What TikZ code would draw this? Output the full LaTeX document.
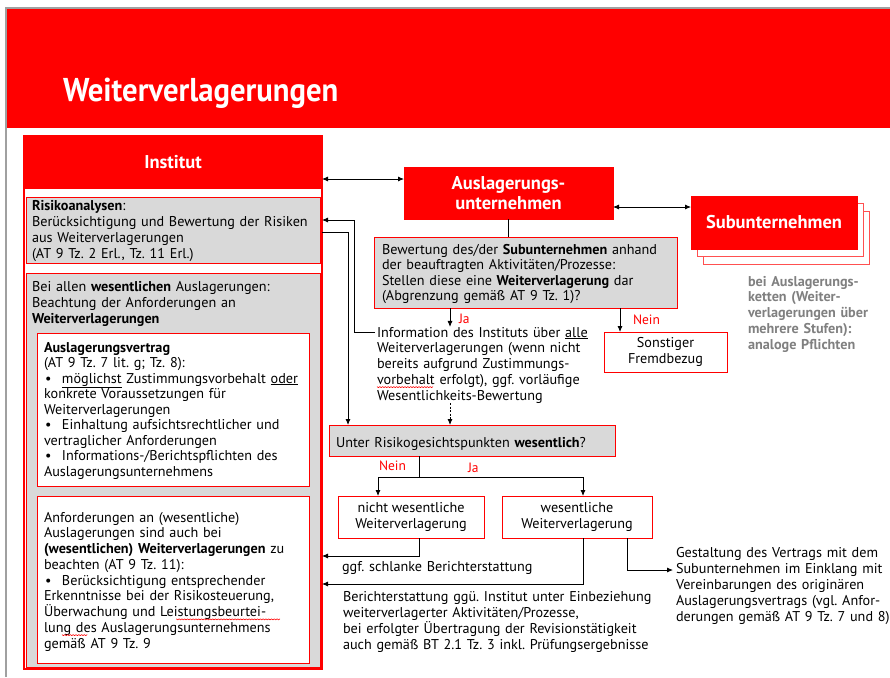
\documentclass[tikz,border=0pt]{standalone}
\usepackage{graphicx}
\usepackage{fontspec}
\setmainfont{PT Sans}
\usetikzlibrary{arrows.meta}

\definecolor{spkred}{HTML}{FF0000}
\definecolor{panelgray}{HTML}{D9D9D9}
\definecolor{notegray}{HTML}{808080}
\definecolor{slideedge}{HTML}{A0A0A0}
\definecolor{shadowred}{HTML}{FF5050}

\newcommand\bodyfontat[1]{\fontsize{14.2}{#1}\selectfont\frenchspacing}
\newcommand\bodyfont{\bodyfontat{16}}
% bullet item with hanging indent
\newcommand\bul{\par\hangindent=18pt\hangafter=1\noindent\makebox[18pt][l]{\hspace{1pt}\textbullet}}

% widths of the words that carry a spell-check mark
\newlength\wvInfo
\newlength\wvLeistPre
\newlength\wvLeist
\newlength\wvLung
\AtBeginDocument{%
  \settowidth\wvInfo{\rmfamily\bodyfont vorbehalt}\global\wvInfo=\wvInfo
  \settowidth\wvLeistPre{\rmfamily\bodyfont Überwachung und\ }\global\wvLeistPre=\wvLeistPre
  \settowidth\wvLeist{\rmfamily\bodyfont Leistungsbeurtei-}\global\wvLeist=\wvLeist
  \settowidth\wvLung{\rmfamily\bodyfont lung}\global\wvLung=\wvLung}

% red wavy spell-check mark: x, baseline, offset length, word length
\newcommand\spellmark[4]{%
  \pgfmathtruncatemacro\wavecount{max(1,#4/2.8)}%
  \draw[spell] ([xshift=#3]#1,#2+2.3) \foreach \k in {1,...,\wavecount} {-- ++(1.4,1.1) -- ++(1.4,-1.1)};}

\begin{document}
\begin{tikzpicture}[x=1pt,y=-1pt,
  every node/.style={inner sep=0pt, outer sep=0pt},
  body/.style={font=\bodyfont},
  txt/.style={body, anchor=base west, text width=320pt, align=left},
  head/.style={text=white, font=\bfseries\fontsize{18.5}{20}\selectfont, align=center},
  redfill/.style={fill=spkred, draw=spkred, line width=0.8pt},
  grayblock/.style={fill=panelgray, draw=spkred, line width=0.8pt},
  whiteblock/.style={fill=white, draw=spkred, line width=0.8pt},
  conn/.style={line width=0.8pt, black},
  arr/.style={conn, -{Latex[length=6pt,width=5pt]}},
  dbl/.style={conn, {Latex[length=6pt,width=5pt]}-{Latex[length=6pt,width=5pt]}},
  lbl/.style={font=\fontsize{13.5}{16}\selectfont, anchor=base west, text=spkred},
  spell/.style={spkred, line width=0.6pt, line join=round},
]
\useasboundingbox (0,0) rectangle (890,677);
\fill[white] (0,0) rectangle (890,677);

% slide edge and title band
\fill[spkred] (6,9) rectangle (890,128);
\draw[slideedge, line width=1.2pt] (6,677) -- (6,8) -- (890,8);
\node[anchor=base west, text=white, font=\bfseries\fontsize{33}{36}\selectfont] (title) at (63,101) {\scalebox{0.93}[1]{Weiterverlagerungen}};

% ---- left panel: Institut ----
\node[redfill, minimum width=298pt, minimum height=52pt, head] (inst) at (173,162) {Institut};
\node[grayblock, minimum width=294pt, minimum height=66pt] (risk) at (173,230) {};
\node[grayblock, minimum width=294pt, minimum height=394pt] (bei) at (173,470) {};
\node[whiteblock, minimum width=272pt, minimum height=153pt] (vert) at (173,409.5) {};
\node[whiteblock, minimum width=272pt, minimum height=167pt] (anf) at (173,579.5) {};
\node[draw=spkred, line width=1.3pt, minimum width=298pt, minimum height=533pt] (frame) at (173,402.5) {};

\node[txt] (risktxt) at (32,210) {\textbf{Risikoanalysen}:\\
Berücksichtigung und Bewertung der Risiken\\
aus Weiterverlagerungen\\
(AT 9 Tz. 2 Erl., Tz. 11 Erl.)};

\node[txt] (beitxt) at (32,291) {Bei allen \textbf{wesentlichen} Auslagerungen:\\
Beachtung der Anforderungen an\\
\textbf{Weiterverlagerungen}};

\node[txt, font={\bodyfontat{15.5}}] (verttxt) at (44,352) {\textbf{Auslagerungsvertrag}\\
(AT 9 Tz. 7 lit. g; Tz. 8):
\bul \underline{möglichst} Zustimmungsvorbehalt \underline{oder}\\
konkrete Voraussetzungen für\\
Weiterverlagerungen
\bul Einhaltung aufsichtsrechtlicher und\\
vertraglicher Anforderungen
\bul Informations-/Berichtspflichten des\\
Auslagerungsunternehmens};

\node[txt, font={\bodyfontat{15.75}}] (anftxt) at (44,522) {Anforderungen an (wesentliche)\\
Auslagerungen sind auch bei\\
\textbf{(wesentlichen) Weiterverlagerungen} zu\\
beachten (AT 9 Tz. 11):
\bul Berücksichtigung entsprechender\\
Erkenntnisse bei der Risikosteuerung,\\
Überwachung und Leistungsbeurtei-\\
lung des Auslagerungsunternehmens\\
gemäß AT 9 Tz. 9};
\spellmark{62}{616.5}{\wvLeistPre}{\wvLeist}
\spellmark{62}{632.25}{0pt}{\wvLung}

% ---- Auslagerungsunternehmen and Subunternehmen ----
\node[redfill, minimum width=209pt, minimum height=52pt, head] (aus) at (508.5,193) {Auslagerungs-\\unternehmen};

\node[whiteblock, draw=shadowred, minimum width=166pt, minimum height=53pt] (sub3) at (786,237.5) {};
\node[whiteblock, draw=shadowred, minimum width=166pt, minimum height=53pt] (sub2) at (780,229.5) {};
\node[redfill, minimum width=166pt, minimum height=53pt, head] (sub) at (774,222.5) {Subunternehmen};

\node[txt, text width=140pt, text=notegray, font={\bfseries\bodyfontat{15.75}}] (kette) at (748,286) {bei Auslagerungs-\\
ketten (Weiter-\\
verlagerungen über\\
mehrere Stufen):\\
analoge Pflichten};

% ---- decision chain ----
\node[grayblock, minimum width=303pt, minimum height=71pt] (bew) at (525.5,272.5) {};
\node[txt, font={\bodyfontat{15.5}}] (bewtxt) at (382,254) {Bewertung des/der \textbf{Subunternehmen} anhand\\
der beauftragten Aktivitäten/Prozesse:\\
Stellen diese eine \textbf{Weiterverlagerung} dar\\
(Abgrenzung gemäß AT 9 Tz. 1)?};

\node[whiteblock, minimum width=123pt, minimum height=40pt, body, align=center] (sonst) at (665.5,352) {Sonstiger\\Fremdbezug};

\node[txt, text width=260pt, font={\bodyfontat{15.75}}] (infotxt) at (377,337) {Information des Instituts über \underline{alle}\\
Weiterverlagerungen (wenn nicht\\
bereits aufgrund Zustimmungs-\\
vorbehalt erfolgt), ggf. vorläufige\\
Wesentlichkeits-Bewertung};
\spellmark{377}{384.25}{0pt}{\wvInfo}

\node[grayblock, minimum width=286pt, minimum height=31pt] (unter) at (472,440.5) {};
\node[txt] (untertxt) at (336,447) {Unter Risikogesichtspunkten \textbf{wesentlich}?};

\node[whiteblock, minimum width=146pt, minimum height=42pt, body, align=center] (nw) at (411,517) {nicht wesentliche\\Weiterverlagerung};
\node[whiteblock, minimum width=150pt, minimum height=42pt, body, align=center] (wes) at (577,517) {wesentliche\\Weiterverlagerung};

\node[txt] (ggftxt) at (342,571) {ggf. schlanke Berichterstattung};
\node[txt] (berichttxt) at (343,601) {Berichterstattung ggü. Institut unter Einbeziehung\\
weiterverlagerter Aktivitäten/Prozesse,\\
bei erfolgter Übertragung der Revisionstätigkeit\\
auch gemäß BT 2.1 Tz. 3 inkl. Prüfungsergebnisse};
\node[txt, text width=220pt] (gesttxt) at (676,557) {Gestaltung des Vertrags mit dem\\
Subunternehmen im Einklang mit\\
Vereinbarungen des originären\\
Auslagerungsvertrags (vgl. Anfor-\\
derungen gemäß AT 9 Tz. 7 und 8)};

% branch labels
\node[lbl] (ja1) at (459,323) {Ja};
\node[lbl] (nein1) at (633,324) {Nein};
\node[lbl] (nein2) at (379,470) {Nein};
\node[lbl] (ja2) at (468,472) {Ja};

% ---- connectors ----
\draw[dbl] (frame.east |- 0,179) -- (aus.west |- 0,179);
\draw[dbl] (aus.east |- 0,207) -- (sub.west |- 0,207);
\draw[conn] (aus.south) -- (aus.south |- bew.north);
\draw[arr] (bew.south -| 450,0) -- (infotxt.north -| 450,0);
\draw[arr] (bew.south -| 620,0) -- (sonst.north -| 620,0);
\draw[arr] ([xshift=-2pt,yshift=5pt]infotxt.base west) -| (354,220) -- (frame.east |- 0,220);
\draw[arr] (frame.east |- 0,232) -| (unter.north -| 348,0);
\draw[arr, dash pattern=on 2pt off 1.5pt] (infotxt.south -| 450,0) -- (unter.north -| 450,0);
\coordinate (split) at (419,477);
\draw[conn] (unter.south -| split) -- (split);
\draw[arr] (split) -| (nw.north -| 378,0);
\draw[arr] (split) -| (wes.north -| 583,0);
\draw[arr] (nw.south -| 419,0) |- (frame.east |- 0,556);
\draw[arr] (wes.south -| 583,0) |- (frame.east |- 0,584);
\draw[arr] (wes.south -| 627,0) |- ([xshift=-3pt]gesttxt.base west |- 0,570);
\end{tikzpicture}
\end{document}
